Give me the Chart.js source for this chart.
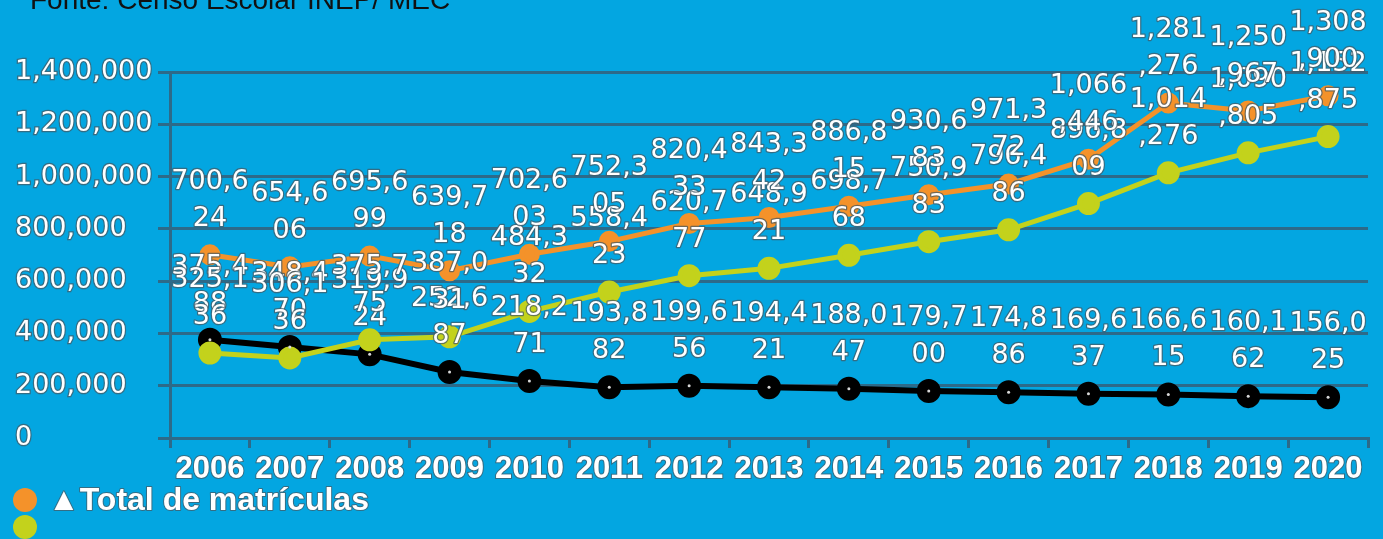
<!DOCTYPE html>
<html>
<head>
<meta charset="utf-8">
<script src="https://cdn.jsdelivr.net/npm/chart.js@4/dist/chart.umd.min.js"></script>
<style>
html,body{margin:0;padding:0;background:#03a6e1;overflow:hidden;}
canvas{display:block;}
</style>
</head>
<body>
<canvas id="c" width="1383" height="539"></canvas>
<script>
// ---- data ----
const years = ['2006','2007','2008','2009','2010','2011','2012','2013','2014','2015','2016','2017','2018','2019','2020'];
const totalMatriculas = [700624, 654606, 695699, 639718, 702603, 752305, 820433, 843342, 886815, 930683, 971372, 1066446, 1281276, 1250967, 1308900];
const serieVerde = [325136, 306136, 375775, 387031, 484332, 558423, 620777, 648921, 698768, 750983, 796486, 896809, 1014276, 1090805, 1152875];
const seriePreta = [375488, 348470, 319924, 252687, 218271, 193882, 199656, 194421, 188047, 179700, 174886, 169637, 166615, 160162, 156025];
const yMin = 0, yMax = 1400000, yStep = 200000;
const titleText = 'Fonte: Censo Escolar INEP/ MEC';
const legendText = '\u25B2Total de matr\u00EDculas';

// ---- styles ----
const ORANGE = '#f4922a';
const GREEN = '#c3d21c';
const BLACK = '#000000';
const GRID = '#2d6a89';
const STROKE = 'rgba(70,90,100,0.75)';

const fmt = v => v.toLocaleString('en-US');

const labelsPlugin = {
  id: 'valueLabels',
  afterDatasetsDraw(chart) {
    const ctx = chart.ctx;
    // light dot in the centre of the black markers
    const mb = chart.getDatasetMeta(2);
    ctx.save();
    ctx.fillStyle = '#d8d8d8';
    mb.data.forEach(p => { ctx.beginPath(); ctx.arc(p.x, p.y, 1.5, 0, Math.PI*2); ctx.fill(); });
    ctx.restore();

    ctx.save();
    ctx.font = '27px "DejaVu Sans"';
    ctx.textAlign = 'center';
    ctx.textBaseline = 'middle';
    ctx.lineJoin = 'round';
    [2,1,0].forEach(di => {
      const meta = chart.getDatasetMeta(di);
      const data = chart.data.datasets[di].data;
      meta.data.forEach((p, i) => {
        const s = fmt(data[i]);
        const l1 = s.slice(0,5), l2 = s.slice(5);
        const y2 = p.y - 36, y1 = y2 - 37;
        [[l1,y1],[l2,y2]].forEach(([t,y]) => {
          if (!t) return;
          ctx.strokeStyle = STROKE; ctx.lineWidth = 2.5;
          ctx.strokeText(t, p.x, y);
          ctx.fillStyle = '#ffffff';
          ctx.fillText(t, p.x, y);
        });
      });
    });
    ctx.restore();
  }
};

const extrasPlugin = {
  id: 'extras',
  afterDraw(chart) {
    const ctx = chart.ctx;
    ctx.save();
    // title (cut off at top as in the source)
    ctx.font = '28px "Liberation Sans"';
    ctx.fillStyle = '#111';
    ctx.textAlign = 'left';
    ctx.textBaseline = 'alphabetic';
    ctx.fillText(titleText, 30, 9);
    // legend
    ctx.fillStyle = ORANGE;
    ctx.beginPath(); ctx.arc(25, 500, 12, 0, Math.PI*2); ctx.fill();
    ctx.fillStyle = GREEN;
    ctx.beginPath(); ctx.arc(25, 527, 12, 0, Math.PI*2); ctx.fill();
    ctx.font = 'bold 32px "Liberation Sans"';
    ctx.textBaseline = 'middle';
    ctx.lineJoin = 'round';
    ctx.strokeStyle = STROKE; ctx.lineWidth = 2;
    ctx.strokeText(legendText, 48, 501);
    ctx.fillStyle = '#fff';
    ctx.fillText(legendText, 48, 501);
    ctx.restore();
  }
};

new Chart(document.getElementById('c'), {
  type: 'line',
  data: {
    labels: years,
    datasets: [
      { label: 'Total de matrículas', data: totalMatriculas, borderColor: ORANGE, backgroundColor: ORANGE,
        pointBackgroundColor: ORANGE, pointBorderColor: ORANGE, borderWidth: 5, pointRadius: 8, tension: 0 },
      { label: '', data: serieVerde, borderColor: GREEN, backgroundColor: GREEN,
        pointBackgroundColor: GREEN, pointBorderColor: GREEN, borderWidth: 5, pointRadius: 9, tension: 0 },
      { label: '', data: seriePreta, borderColor: BLACK, backgroundColor: BLACK,
        pointBackgroundColor: BLACK, pointBorderColor: BLACK, borderWidth: 6, pointRadius: 9, tension: 0 }
    ]
  },
  options: {
    responsive: false,
    animation: false,
    layout: { padding: { left: 15, top: 72, right: 3, bottom: 0 } },
    plugins: { legend: { display: false }, tooltip: { enabled: false }, title: { display: false } },
    scales: {
      x: {
        offset: true,
        grid: { offset: true, drawOnChartArea: false, drawTicks: true, tickLength: 10, color: GRID, lineWidth: 3 },
        border: { display: true, color: GRID, width: 3 },
        ticks: { font: { family: 'Liberation Sans', size: 31, weight: 'bold' }, color: '#ffffff',
                 textStrokeColor: STROKE, textStrokeWidth: 2, padding: 3, maxRotation: 0, autoSkip: false },
        afterFit(s) { s.height = 101; }
      },
      y: {
        min: yMin, max: yMax,
        ticks: { stepSize: yStep, font: { family: 'DejaVu Sans', size: 27 }, color: '#ffffff',
                 textStrokeColor: STROKE, textStrokeWidth: 2.5, crossAlign: 'far',
                 callback: v => fmt(v) },
        grid: { color: GRID, lineWidth: 3, tickLength: 12 },
        border: { display: true, color: GRID, width: 3 },
        afterFit(s) { s.width = 155; }
      }
    }
  },
  plugins: [labelsPlugin, extrasPlugin]
});
</script>
</body>
</html>
